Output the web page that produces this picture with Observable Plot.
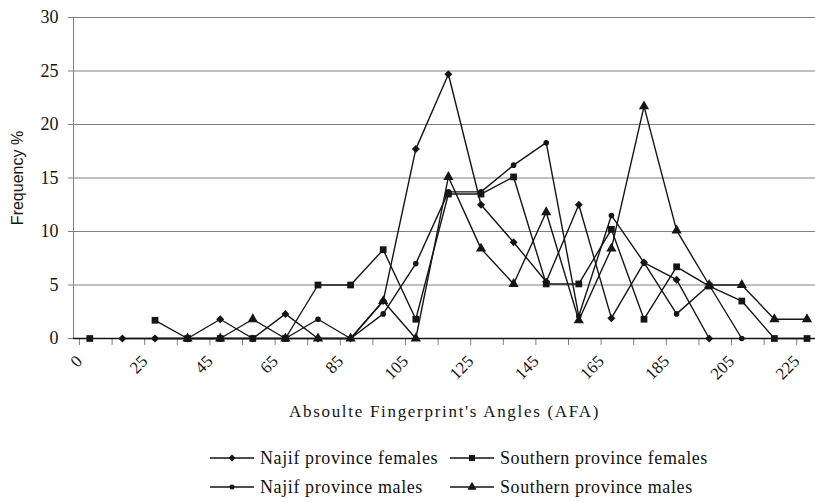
<!DOCTYPE html>
<html>
<head>
<meta charset="utf-8">
<script src="https://cdn.jsdelivr.net/npm/d3@7"></script>
<script src="https://cdn.jsdelivr.net/npm/@observablehq/plot@0.6"></script>
<style>
  body { margin: 0; background: #fff; }
  #chart { width: 815px; position: relative; font-family: "Liberation Serif", "Times New Roman", "DejaVu Serif", serif; }
  #chart svg { display: block; }
  #chart svg text { font-family: "Liberation Serif", "Times New Roman", "DejaVu Serif", serif; }
  g[aria-label="x-axis label"] text { letter-spacing: 1.7px; }
  g[aria-label="y-axis label"] text { font-family: "Liberation Sans", Arial, sans-serif !important; font-size: 16px; }
  .legend { position: relative; height: 72px; font-size: 18px; color: #111; letter-spacing: 0.6px; }
  .item { position: absolute; display: flex; align-items: center; height: 20px; }
  .item svg { margin-right: 4px; }
</style>
</head>
<body>
<div id="chart"></div>
<script>
// Tick labels placed on every other category boundary
const boundaryLabels = ["0","25","45","65","85","105","125","145","165","185","205","225"];
// 23 angle classes (one value per class, null = no point)
const najifFemales    = [null,0,0,0,1.8,0,2.3,0,0,3.5,17.7,24.7,12.5,9.0,5.3,12.5,1.9,7.1,5.5,0,null,null,null];
const southernFemales = [0,null,1.7,0,0,0,0,5.0,5.0,8.3,1.8,13.5,13.5,15.1,5.1,5.1,10.2,1.8,6.7,4.9,3.5,0,0];
const najifMales      = [null,null,0,0,0,0,0,1.8,0,2.3,7.0,13.7,13.7,16.2,18.3,2.1,11.5,7.1,2.3,5.0,0,null,null];
const southernMales   = [null,null,null,0,0,1.8,0,0,0,3.5,0,15.1,8.4,5.1,11.8,1.7,8.4,21.7,10.1,5.0,5.0,1.8,1.8];
const yTicks = [0,5,10,15,20,25,30];

const series = [
  {name: "Najif province females",    values: najifFemales,    symbol: d3.symbolDiamond2, r: 3.6},
  {name: "Southern province females", values: southernFemales, symbol: d3.symbolSquare,   r: 3.8},
  {name: "Najif province males",      values: najifMales,      symbol: d3.symbolCircle,   r: 2.8},
  {name: "Southern province males",   values: southernMales,   symbol: d3.symbolTriangle, r: 3.8}
];

const nClasses = najifFemales.length;
const rows = series.flatMap(s => s.values.map((v, i) => ({series: s.name, x: i + 0.5, y: v})));
const ink = "#151515";

const plot = Plot.plot({
  width: 815,
  height: 430,
  marginLeft: 73,
  marginRight: 0,
  marginTop: 17,
  marginBottom: 92,
  style: {fontFamily: "'Liberation Serif', 'Times New Roman', serif", fontSize: "17px", background: "#fff", color: ink, overflow: "visible"},
  x: {type: "linear", domain: [0, nClasses], range: [73, 73 + 32.6 * nClasses]},
  y: {domain: [0, 30]},
  marks: [
    Plot.gridY(yTicks.slice(1), {stroke: "#808080", strokeOpacity: 1, strokeWidth: 1.1}),
    Plot.axisY(yTicks, {tickSize: 5, tickPadding: 10, stroke: "#808080", fontSize: 18,
      label: "Frequency %", labelAnchor: "center", labelOffset: 62, labelArrow: "none"}),
    Plot.ruleX([0], {y1: 0, y2: 30, stroke: "#808080"}),
    Plot.axisX(d3.range(0, nClasses), {
      tickSize: 7, tickPadding: 13, stroke: "#808080", fontSize: 17, tickRotate: -45, dx: 6,
      tickFormat: k => (k % 2 === 0 ? boundaryLabels[k / 2] : ""),
      label: "Absoulte Fingerprint's Angles (AFA)", labelAnchor: "center", labelOffset: 78, labelArrow: "none"
    }),
    Plot.ruleY([0], {stroke: ink, strokeWidth: 1.6}),
    Plot.line(rows, {x: "x", y: "y", z: "series", stroke: ink, strokeWidth: 1.4}),
    ...series.map(s => Plot.dot(rows.filter(d => d.series === s.name && d.y != null),
      {x: "x", y: "y", symbol: s.symbol, r: s.r, fill: ink, stroke: "none"}))
  ]
});

const chart = document.getElementById("chart");
chart.appendChild(plot);

// Legend below the plot
const legend = document.createElement("div");
legend.className = "legend";
chart.appendChild(legend);
const positions = [[208, 18], [448, 18], [208, 47], [448, 47]];
series.forEach((s, k) => {
  const item = document.createElement("div");
  item.className = "item";
  item.style.left = positions[k][0] + "px";
  item.style.top = positions[k][1] + "px";
  const sw = d3.create("svg").attr("width", 48).attr("height", 20);
  sw.append("line").attr("x1", 2).attr("x2", 46).attr("y1", 10).attr("y2", 10).attr("stroke", ink).attr("stroke-width", 1.4);
  sw.append("path").attr("transform", "translate(24,10)").attr("d", d3.symbol(s.symbol, Math.PI * s.r * s.r * 0.8)()).attr("fill", ink);
  item.appendChild(sw.node());
  const t = document.createElement("span");
  t.textContent = s.name;
  item.appendChild(t);
  legend.appendChild(item);
});
</script>
</body>
</html>
